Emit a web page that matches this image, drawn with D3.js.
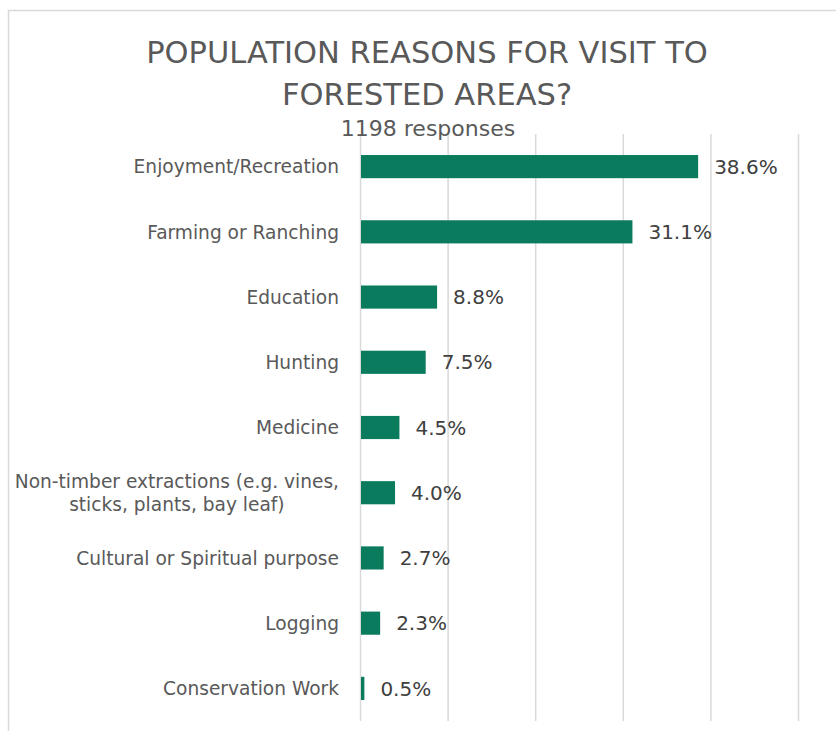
<!DOCTYPE html>
<html>
<head>
<meta charset="utf-8">
<script src="https://cdn.jsdelivr.net/npm/d3@7"></script>
<style>
  html, body { margin: 0; padding: 0; background: #fff; }
  svg { display: block; }
</style>
</head>
<body>
<svg id="chart" width="836" height="731"></svg>
<script>
// Survey results: reasons people visit forested areas
const categories = [
  "Enjoyment/Recreation",
  "Farming or Ranching",
  "Education",
  "Hunting",
  "Medicine",
  "Non-timber extractions (e.g. vines,|sticks, plants, bay leaf)",
  "Cultural or Spiritual purpose",
  "Logging",
  "Conservation Work"
];
const shares = [38.6, 31.1, 8.8, 7.5, 4.5, 4.0, 2.7, 2.3, 0.5];
const xTicks = [0, 10, 20, 30, 40, 50];
const titleLines = ["POPULATION REASONS FOR VISIT TO", "FORESTED AREAS?"];
const subtitle = "1198 responses";

const FONT = "'DejaVu Sans', sans-serif";
const svg = d3.select("#chart");
const W = 836, H = 731;

// Outer chart frame
svg.append("rect")
  .attr("x", 8.5).attr("y", 10.5)
  .attr("width", W + 20).attr("height", H + 20)
  .attr("fill", "none").attr("stroke", "#d9d9d9").attr("stroke-width", 1.5);

const plot = { left: 360, right: 798, top: 134, bottom: 721 };

const x = d3.scaleLinear().domain([0, 50]).range([plot.left, plot.right]);
const y = d3.scaleBand().domain(d3.range(categories.length))
  .range([plot.top, plot.bottom]).paddingInner(0.645).paddingOuter(0.3225);

// Vertical gridlines
const grid = d3.axisBottom(x).tickValues(xTicks)
  .tickSize(-(plot.bottom - plot.top)).tickFormat("");
svg.append("g")
  .attr("transform", `translate(0,${plot.bottom})`)
  .call(grid)
  .call(g => g.select(".domain").remove())
  .call(g => g.selectAll("line").attr("stroke", "#d9d9d9").attr("stroke-width", 1.5));

// Bars
svg.append("g").selectAll("rect")
  .data(shares)
  .join("rect")
  .attr("x", x(0) + 1)
  .attr("y", (d, i) => y(i))
  .attr("width", d => x(d) - x(0) - 1)
  .attr("height", y.bandwidth())
  .attr("fill", "#0a7b5d");

// Value labels
svg.append("g").selectAll("text")
  .data(shares)
  .join("text")
  .attr("x", d => x(d) + 16)
  .attr("y", (d, i) => y(i) + y.bandwidth() / 2)
  .attr("dy", "0.36em")
  .attr("font-family", FONT).attr("font-size", 20)
  .attr("fill", "#404040")
  .text(d => d.toFixed(1) + "%");

// Category labels (multi-line labels are centred within their block)
const catG = svg.append("g");
categories.forEach((c, i) => {
  const lines = c.split("|");
  const cy = y(i) + y.bandwidth() / 2;
  const lh = 23;
  const t = catG.append("text")
    .attr("font-family", FONT).attr("font-size", 18.6)
    .attr("fill", "#595959");
  if (lines.length === 1) {
    t.attr("x", 339).attr("y", cy).attr("dy", "0.36em")
      .attr("text-anchor", "end").text(c);
  } else {
    lines.forEach((ln, k) => {
      t.append("tspan")
        .attr("x", 0)
        .attr("y", cy + (k - (lines.length - 1) / 2) * lh)
        .attr("dy", "0.36em")
        .attr("text-anchor", "middle")
        .text(ln);
    });
    const w = t.node().getBBox().width;
    t.selectAll("tspan").attr("x", 339 - w / 2);
  }
});

// Title and subtitle
const title = svg.append("text")
  .attr("text-anchor", "middle")
  .attr("font-family", FONT).attr("font-size", 30.5)
  .attr("fill", "#595959");
titleLines.forEach((ln, k) => {
  title.append("tspan").attr("x", 427).attr("y", 63 + k * 42).text(ln);
});
svg.append("text")
  .attr("x", 428).attr("y", 136)
  .attr("text-anchor", "middle")
  .attr("font-family", FONT).attr("font-size", 22)
  .attr("fill", "#595959")
  .text(subtitle);
</script>
</body>
</html>
